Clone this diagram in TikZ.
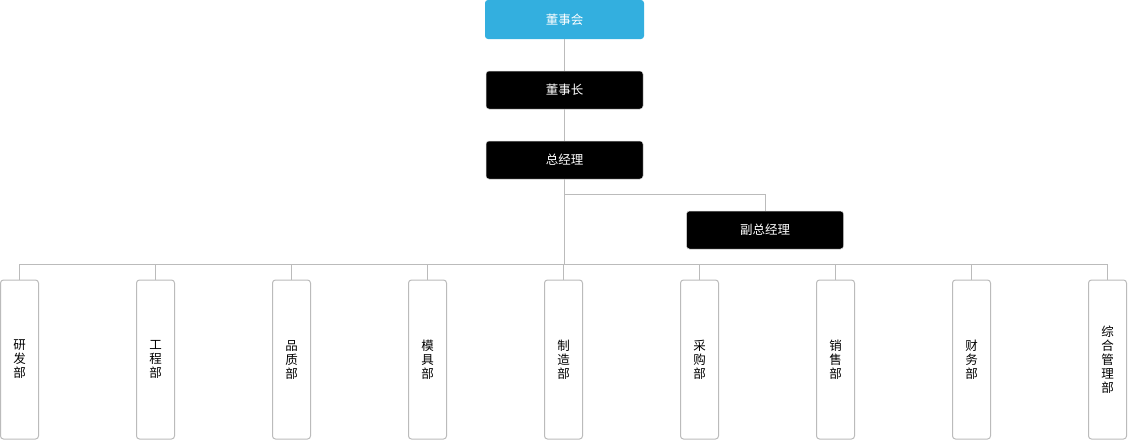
\documentclass[tikz,border=0pt]{standalone}
\usepackage{fontspec}
\newfontfamily\cjk{Noto Sans CJK SC}
\definecolor{boardblue}{HTML}{33AFDF}
\definecolor{linegray}{HTML}{BBBBBB}
\begin{document}
\begin{tikzpicture}[x=1pt,y=-1pt,
  box/.style={rectangle,rounded corners=3pt,inner sep=0pt,font=\cjk\fontsize{12.5}{14}\selectfont},
  topbox/.style={box,minimum width=157pt,minimum height=38pt,text=white},
  boardbox/.style={topbox,fill=boardblue,minimum width=159pt,minimum height=39pt},
  execbox/.style={topbox,fill=black,draw=linegray!60,line width=0.5pt},
  deptbox/.style={box,draw=linegray,fill=white,line width=1pt,minimum width=38pt,minimum height=159pt,align=center,text=black},
  conn/.style={draw=linegray,line width=1pt}]
\useasboundingbox (0,0) rectangle (1129,440);
\node[boardbox] (board) at (564.5,19.5) {董事会};
\node[execbox] (chair) at (564.5,90) {董事长};
\node[execbox] (gm) at (564.5,160) {总经理};
\node[execbox] (dgm) at (765,230) {副总经理};
\coordinate (split) at (564.5,194);
\coordinate (bus) at (564.5,264);
\foreach \i/\t in {0/研\\发\\部,1/工\\程\\部,2/品\\质\\部,3/模\\具\\部,4/制\\造\\部,5/采\\购\\部,6/销\\售\\部,7/财\\务\\部,8/综\\合\\管\\理\\部}{
  \node[deptbox] (d\i) at ({19.5+136*\i},359.5) {\t};
}
\draw[conn] (board) -- (chair);
\draw[conn] (chair) -- (gm);
\draw[conn] (gm.south) -- (bus);
\draw[conn] (split) -| (dgm.north);
\draw[conn] (d0.north |- bus) -- (d8.north |- bus);
\foreach \i in {0,...,8}{
  \draw[conn] (d\i.north) -- (d\i.north |- bus);
}
\end{tikzpicture}
\end{document}
